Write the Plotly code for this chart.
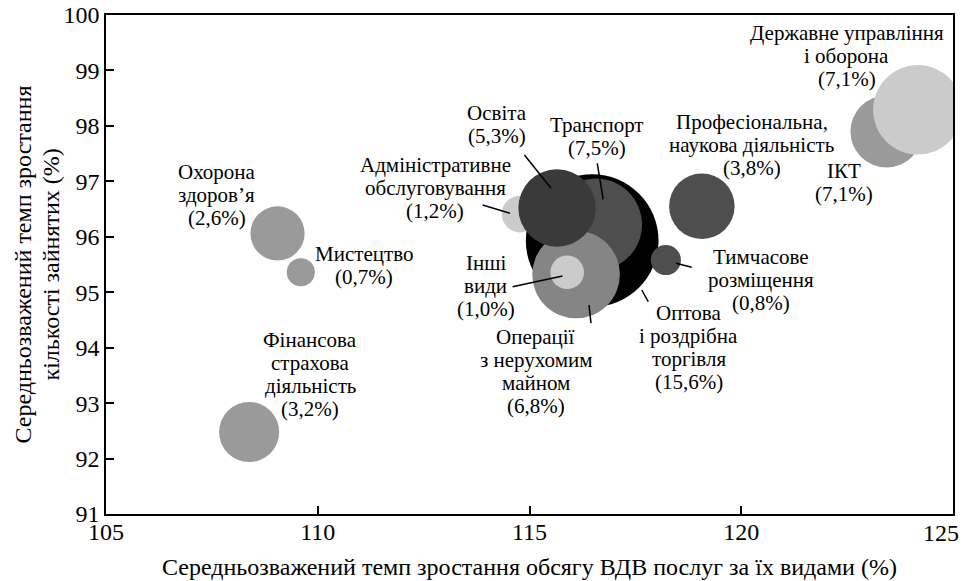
import plotly.graph_objects as go

# ---- data (draw order) ----
sectors = [
    "Оптова і роздрібна торгівля",
    "Транспорт",
    "Операції з нерухомим майном",
    "Адміністративне обслуговування",
    "Освіта",
    "Інші види",
    "Тимчасове розміщення",
    "Професіональна, наукова діяльність",
    "Охорона здоров’я",
    "Мистецтво",
    "Фінансова страхова діяльність",
    "ІКТ",
    "Державне управління і оборона",
]
gva_growth = [116.48, 116.57, 116.10, 114.78, 115.65, 115.89, 118.22, 119.07,
              109.05, 109.60, 108.38, 123.43, 124.17]
employment_growth = [95.93, 96.22, 95.32, 96.41, 96.52, 95.36, 95.58, 96.55,
                     96.06, 95.36, 92.48, 97.90, 98.29]
share_labels = ["15,6%", "7,5%", "6,8%", "1,2%", "5,3%", "1,0%", "0,8%", "3,8%",
                "2,6%", "0,7%", "3,2%", "7,1%", "7,1%"]
bubble_size = [15.6, 7.5, 6.8, 1.2, 5.3, 1.0, 0.8, 3.8, 2.6, 0.7, 3.2, 4.6, 7.1]
colors = ["#000000", "#4e4e4e", "#858585", "#cbcbcb", "#3a3a3a", "#cbcbcb",
          "#4e4e4e", "#4e4e4e", "#9a9a9a", "#9a9a9a", "#9a9a9a", "#9a9a9a",
          "#cbcbcb"]

x_ticks = [105, 110, 115, 120, 125]
y_ticks = [91, 92, 93, 94, 95, 96, 97, 98, 99, 100]
x_title = "Середньозважений темп зростання обсягу ВДВ послуг за їх видами (%)"
y_title_lines = ["Середньозважений темп зростання", "кількості зайнятих (%)"]

# label blocks: (lines, x, y)
label_lines = [
    (["Оптова", "і роздрібна", "торгівля", "(15,6%)"], 118.76, 94.00),
    (["Транспорт", "(7,5%)"], 116.59, 97.80),
    (["Операції", "з нерухомим", "майном", "(6,8%)"], 115.15, 93.57),
    (["Адміністративне", "обслуговування", "(1,2%)"], 112.77, 96.88),
    (["Освіта", "(5,3%)"], 114.23, 98.03),
    (["Інші", "види", "(1,0%)"], 113.97, 95.12),
    (["Тимчасове", "розміщення", "(0,8%)"], 120.46, 95.22),
    (["Професіональна,", "наукова діяльність", "(3,8%)"], 120.25, 97.65),
    (["Охорона", "здоров’я", "(2,6%)"], 107.62, 96.75),
    (["Мистецтво", "(0,7%)"], 111.09, 95.49),
    (["Фінансова", "страхова", "діяльність", "(3,2%)"], 109.82, 93.51),
    (["ІКТ", "(7,1%)"], 122.43, 96.98),
    (["Державне управління", "і оборона", "(7,1%)"], 122.49, 99.26),
]

# leader lines: (x0, y0, x1, y1)
leaders = [
    (114.88, 97.475, 115.51, 96.874),
    (116.60, 97.325, 116.74, 96.676),
    (113.895, 96.573, 114.54, 96.423),
    (114.60, 95.099, 115.78, 95.292),
    (116.405, 94.769, 116.452, 94.444),
    (117.65, 95.04, 117.805, 94.829),
    (118.46, 95.521, 118.83, 95.449),
]

FONT = "Liberation Serif"
k = 16.8  # radius px per sqrt(share)

fig = go.Figure(go.Scatter(
    x=gva_growth, y=employment_growth, mode="markers",
    text=sectors,
    marker=dict(size=bubble_size, sizemode="area", sizeref=2 / (2 * k) ** 2,
                color=colors, opacity=1, line=dict(width=0)),
    cliponaxis=True, hoverinfo="text+x+y",
))

annotations = []
LINE_H = 23
for lines, lx, ly in label_lines:
    n = len(lines)
    for i, t in enumerate(lines):
        annotations.append(dict(
            x=lx, y=ly, xref="x", yref="y", text=t, showarrow=False,
            yshift=((n - 1) / 2 - i) * LINE_H,
            font=dict(family=FONT, size=21, color="black"),
            xanchor="center", yanchor="middle"))

# last x tick label, kept inside the canvas
annotations.append(dict(x=x_ticks[-1], y=0, xref="x", yref="paper",
                        text=str(x_ticks[-1]), showarrow=False,
                        xanchor="right", yanchor="middle", xshift=8, yshift=-19,
                        font=dict(family=FONT, size=24, color="black")))
# axis titles
annotations.append(dict(x=0.5, y=0, xref="paper", yref="paper", text=x_title,
                        showarrow=False, xanchor="center", yanchor="middle",
                        yshift=-53, font=dict(family=FONT, size=24, color="black")))
for j, t in enumerate(y_title_lines):
    annotations.append(dict(x=0, y=0.5, xref="paper", yref="paper", text=t,
                            showarrow=False, textangle=-90,
                            xanchor="center", yanchor="middle",
                            xshift=-84 + 28 * j,
                            font=dict(family=FONT, size=24, color="black")))

shapes = [dict(type="line", xref="x", yref="y", x0=a, y0=b, x1=c, y1=d,
               line=dict(color="black", width=1.5)) for a, b, c, d in leaders]

fig.update_layout(
    template="none",
    width=963, height=581,
    margin=dict(l=106, r=10, t=15, b=67, autoexpand=False),
    paper_bgcolor="white", plot_bgcolor="white",
    showlegend=False,
    font=dict(family=FONT, size=24, color="black"),
    annotations=annotations, shapes=shapes,
    xaxis=dict(range=[105, 125], tickvals=x_ticks,
               ticktext=[str(v) for v in x_ticks[:-1]] + [""],
               ticks="inside", ticklen=8,
               tickwidth=1.5, tickcolor="black", showline=True, linecolor="black",
               linewidth=1.5, mirror=True, showgrid=False, zeroline=False,
               automargin=False, tickfont=dict(size=24), ticklabelstandoff=-5,
               ticklabeloverflow="allow"),
    yaxis=dict(range=[91, 100], tickvals=y_ticks, ticks="inside", ticklen=8,
               tickwidth=1.5, tickcolor="black", showline=True, linecolor="black",
               linewidth=1.5, mirror=True, showgrid=False, zeroline=False,
               automargin=False, tickfont=dict(size=24), ticklabelstandoff=0,
               ticklabeloverflow="allow"),
)

fig.write_html("out.html", config={"displayModeBar": False},
               post_script="document.body.style.margin='0';document.body.style.overflow='hidden';")
